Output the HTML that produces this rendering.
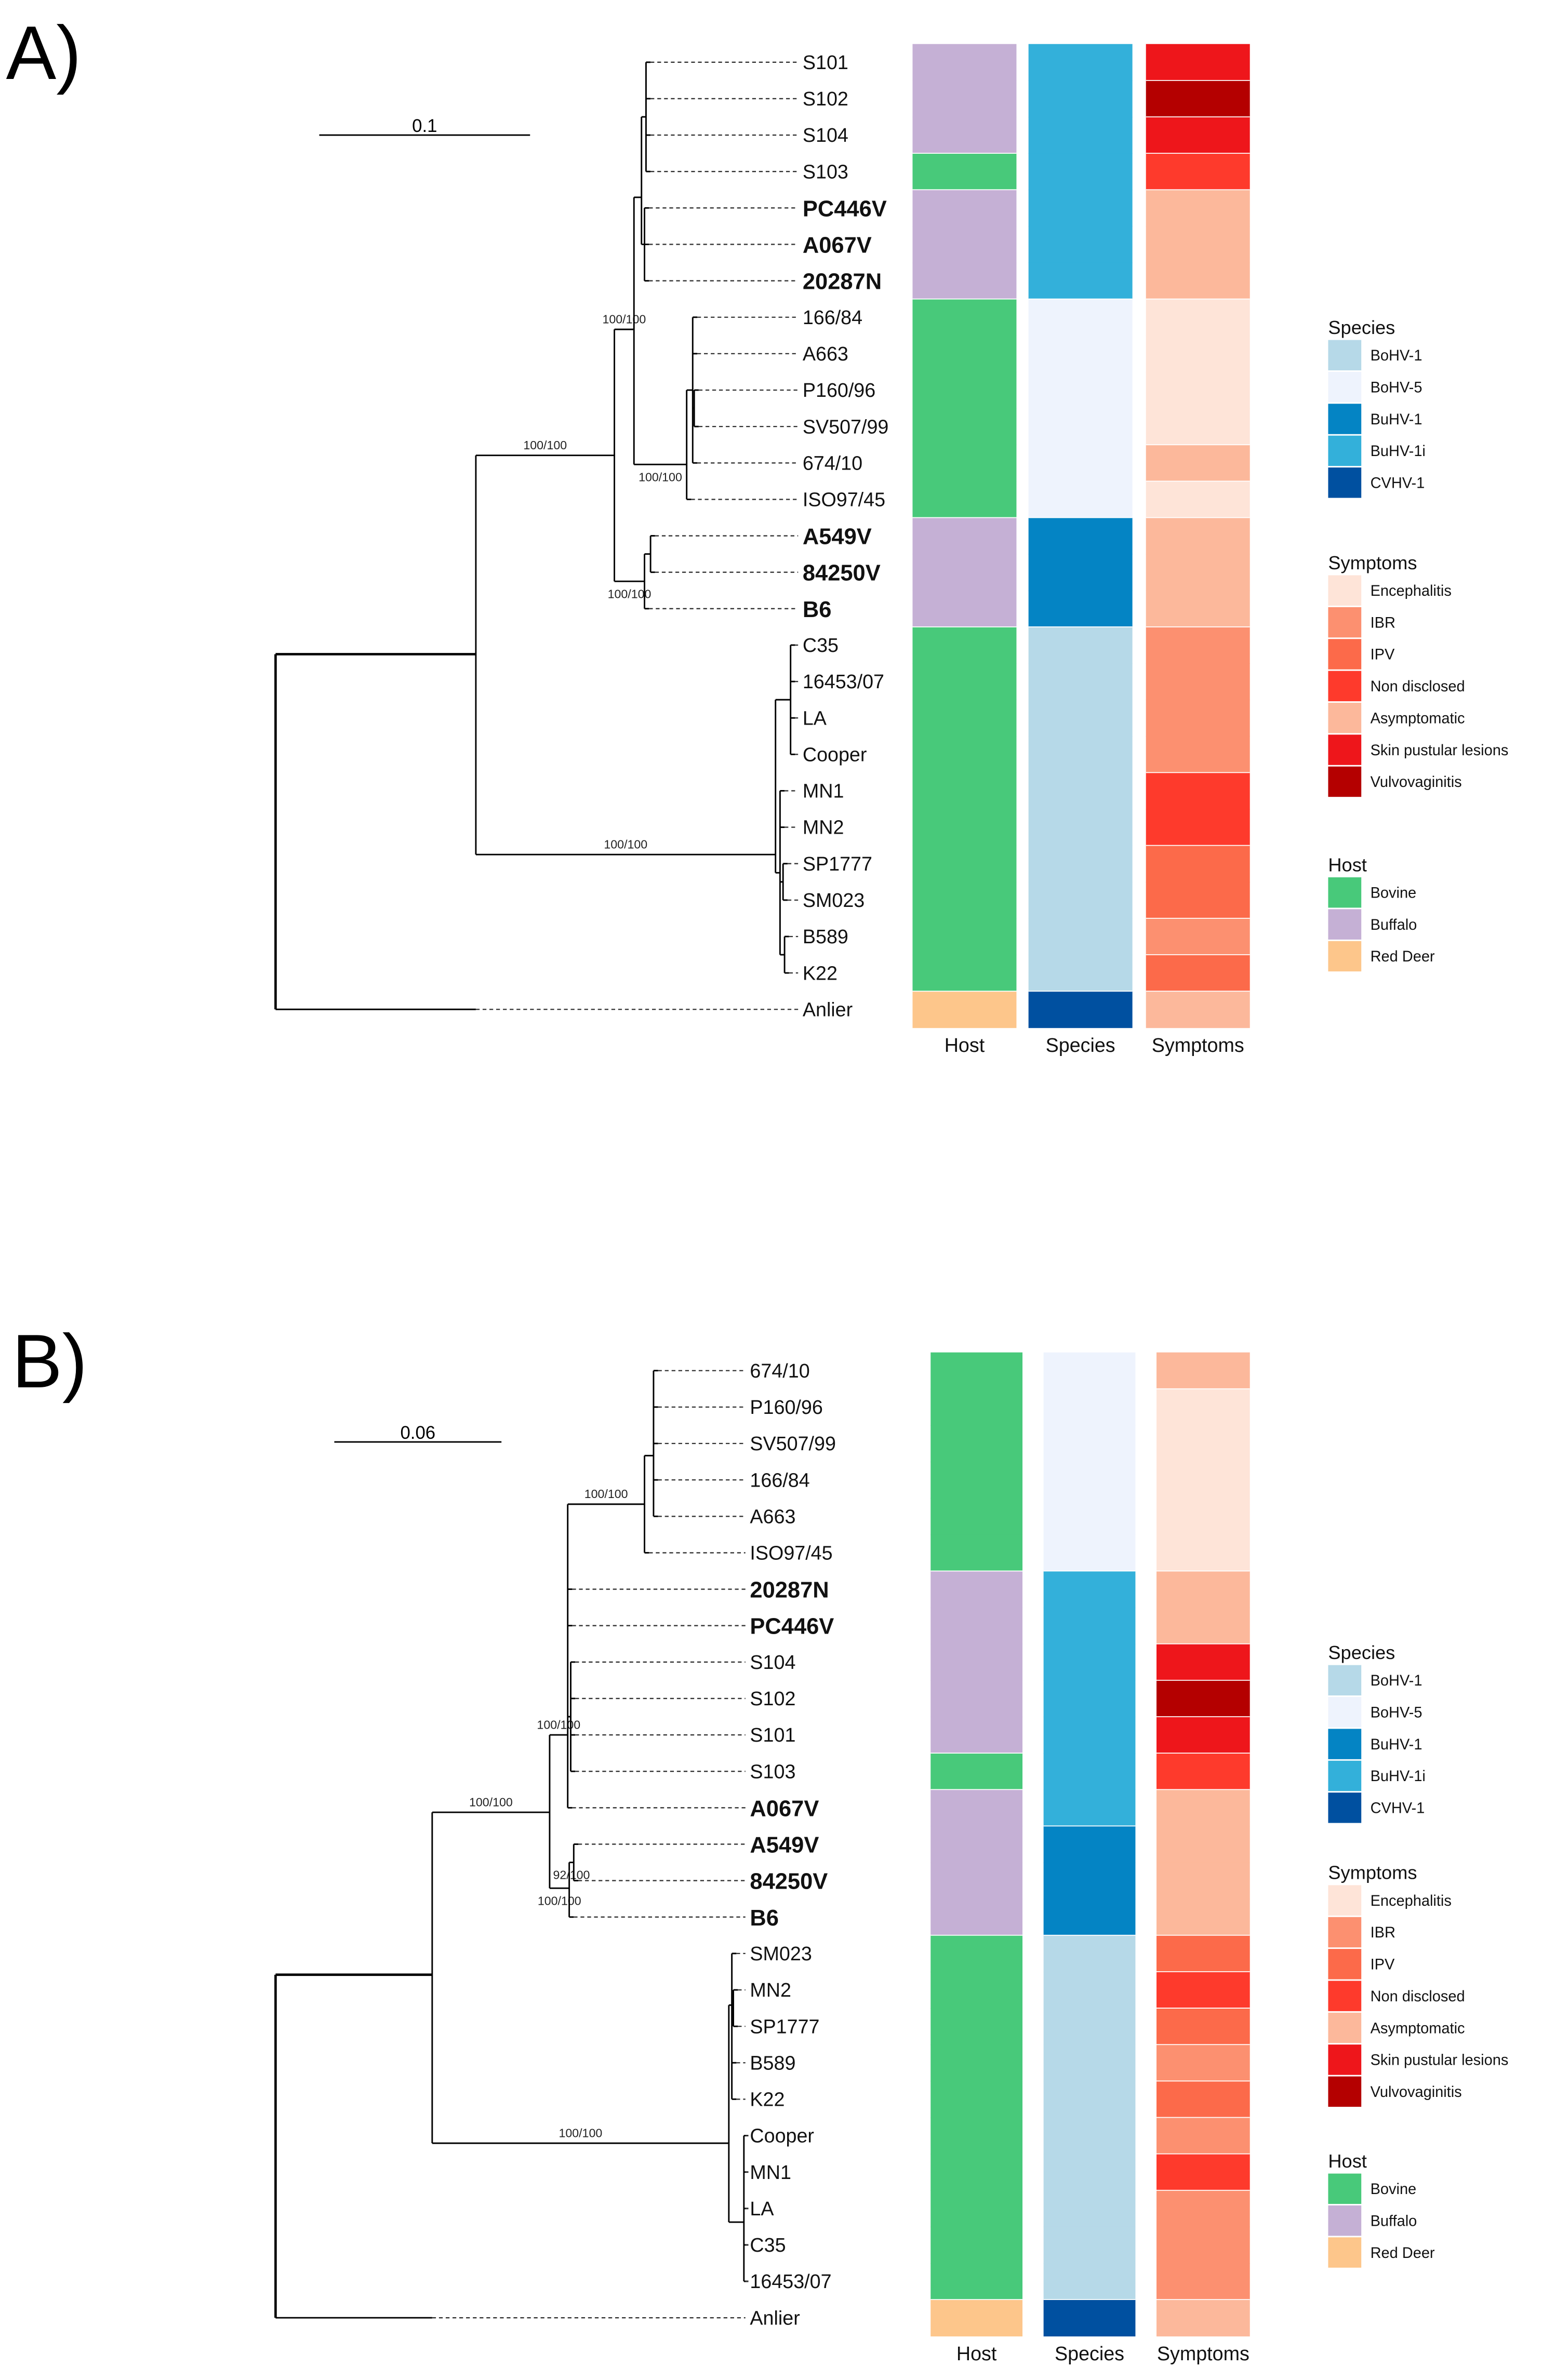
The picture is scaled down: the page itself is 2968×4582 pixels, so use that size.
<!DOCTYPE html>
<html><head><meta charset="utf-8"><style>
html,body{margin:0;padding:0;background:#fff;}
svg{display:block;font-family:"Liberation Sans",sans-serif;}
</style></head><body>
<svg id="fig" width="2968" height="4582" viewBox="0 0 1024 1568" preserveAspectRatio="none" xmlns="http://www.w3.org/2000/svg">
<text x="4" y="52" font-size="50">A)</text>
<text x="8" y="914" font-size="50">B)</text>
</svg>
<script>
const tipsA = ["S101","S102","S104","S103","PC446V","A067V","20287N","166/84","A663","P160/96","SV507/99","674/10","ISO97/45","A549V","84250V","B6","C35","16453/07","LA","Cooper","MN1","MN2","SP1777","SM023","B589","K22","Anlier"];
const hostA = ["Buffalo","Buffalo","Buffalo","Bovine","Buffalo","Buffalo","Buffalo","Bovine","Bovine","Bovine","Bovine","Bovine","Bovine","Buffalo","Buffalo","Buffalo","Bovine","Bovine","Bovine","Bovine","Bovine","Bovine","Bovine","Bovine","Bovine","Bovine","Red Deer"];
const speciesA = ["BuHV-1i","BuHV-1i","BuHV-1i","BuHV-1i","BuHV-1i","BuHV-1i","BuHV-1i","BoHV-5","BoHV-5","BoHV-5","BoHV-5","BoHV-5","BoHV-5","BuHV-1","BuHV-1","BuHV-1","BoHV-1","BoHV-1","BoHV-1","BoHV-1","BoHV-1","BoHV-1","BoHV-1","BoHV-1","BoHV-1","BoHV-1","CVHV-1"];
const symptomsA = ["Skin pustular lesions","Vulvovaginitis","Skin pustular lesions","Non disclosed","Asymptomatic","Asymptomatic","Asymptomatic","Encephalitis","Encephalitis","Encephalitis","Encephalitis","Asymptomatic","Encephalitis","Asymptomatic","Asymptomatic","Asymptomatic","IBR","IBR","IBR","IBR","Non disclosed","Non disclosed","IPV","IPV","IBR","IPV","Asymptomatic"];
const tipsB = ["674/10","P160/96","SV507/99","166/84","A663","ISO97/45","20287N","PC446V","S104","S102","S101","S103","A067V","A549V","84250V","B6","SM023","MN2","SP1777","B589","K22","Cooper","MN1","LA","C35","16453/07","Anlier"];
const hostB = ["Bovine","Bovine","Bovine","Bovine","Bovine","Bovine","Buffalo","Buffalo","Buffalo","Buffalo","Buffalo","Bovine","Buffalo","Buffalo","Buffalo","Buffalo","Bovine","Bovine","Bovine","Bovine","Bovine","Bovine","Bovine","Bovine","Bovine","Bovine","Red Deer"];
const speciesB = ["BoHV-5","BoHV-5","BoHV-5","BoHV-5","BoHV-5","BoHV-5","BuHV-1i","BuHV-1i","BuHV-1i","BuHV-1i","BuHV-1i","BuHV-1i","BuHV-1i","BuHV-1","BuHV-1","BuHV-1","BoHV-1","BoHV-1","BoHV-1","BoHV-1","BoHV-1","BoHV-1","BoHV-1","BoHV-1","BoHV-1","BoHV-1","CVHV-1"];
const symptomsB = ["Asymptomatic","Encephalitis","Encephalitis","Encephalitis","Encephalitis","Encephalitis","Asymptomatic","Asymptomatic","Skin pustular lesions","Vulvovaginitis","Skin pustular lesions","Non disclosed","Asymptomatic","Asymptomatic","Asymptomatic","Asymptomatic","IPV","Non disclosed","IPV","IBR","IPV","IBR","Non disclosed","IBR","IBR","IBR","Asymptomatic"];
const boldTips = ["PC446V","A067V","20287N","A549V","84250V","B6"];
const speciesCats = ["BoHV-1","BoHV-5","BuHV-1","BuHV-1i","CVHV-1"];
const speciesCols = ["#b6d9e8","#eef3fd","#0484c4","#33b0da","#0050a0"];
const symptomCats = ["Encephalitis","IBR","IPV","Non disclosed","Asymptomatic","Skin pustular lesions","Vulvovaginitis"];
const symptomCols = ["#fee4d8","#fc9070","#fc6a4a","#fe3a2c","#fcb89b","#ee161b","#b40000"];
const hostCats = ["Bovine","Buffalo","Red Deer"];
const hostCols = ["#48c97a","#c5b0d5","#fdc68b"];

const NS="http://www.w3.org/2000/svg";
const svg=document.getElementById('fig');
function mk(tag,attrs,parent){const e=document.createElementNS(NS,tag);for(const k in attrs)e.setAttribute(k,attrs[k]);(parent||svg).appendChild(e);return e;}
function N(x,children,label,below,yo){return {x,children,label,below,yo};}

function drawPanel(P){
  const g=mk('g',{});
  
  
  const yOf=i=>P.y0+i*P.dy;
  function layout(n){ if(typeof n==='number') return yOf(n); const ys=n.children.map(layout); n.y=(n.yo!==undefined)?n.yo:(ys[0]+ys[ys.length-1])/2; n.ys=ys; return n.y;}
  layout(P.tree);
  function draw(n){
    const lo=Math.min(...n.ys,n.y),hi=Math.max(...n.ys,n.y);
    mk('line',{x1:n.x,x2:n.x,y1:lo,y2:hi,stroke:'#000','stroke-width':n===P.tree?1.6:1},g);
    n.children.forEach((c,k)=>{
      const cy=n.ys[k];
      if(typeof c==='number'){
        const sx=c===P.tips.length-1?P.outX:n.x+3;
        mk('line',{x1:n.x,x2:sx,y1:cy,y2:cy,stroke:'#000','stroke-width':1},g);
        mk('line',{x1:sx,x2:P.tipEnd,y1:cy,y2:cy,stroke:'#333','stroke-width':0.8,'stroke-dasharray':'2.5,2'},g);
      } else {
        mk('line',{x1:n.x,x2:c.x,y1:cy,y2:cy,stroke:'#000','stroke-width':n===P.tree?1.6:1},g);
        if(c.label){const t=mk('text',{x:(n.x+c.x)/2,y:c.below?cy+11:cy-4,'font-size':8,'text-anchor':'middle',fill:'#222'},g);t.textContent=c.label;
          
          }
        draw(c);
      }
    });
  }
  draw(P.tree);
  P.tips.forEach((name,i)=>{
    const b=boldTips.includes(name);
    const t=mk('text',{x:P.labelX,y:yOf(i)+(b?5.5:4.5),'font-size':b?15:13,'font-weight':b?'bold':'normal',fill:'#111'},g);
    t.textContent=name;
    
    
  });
  const cols=[[P.host,hostCats,hostCols,'Host'],[P.species,speciesCats,speciesCols,'Species'],[P.symp,symptomCats,symptomCols,'Symptoms']];
  cols.forEach((c,ci)=>{
    const [vals,cats,colors,title]=c;const [x0,x1]=P.colX[ci];
    vals.forEach((v,i)=>{
      const r=mk('rect',{x:x0,y:yOf(i)-P.dy/2,width:x1-x0,height:P.dy+0.3,fill:colors[cats.indexOf(v)]},g);
      
      
      if(i>0 && vals[i-1]!==v) mk('line',{x1:x0,x2:x1,y1:yOf(i)-P.dy/2,y2:yOf(i)-P.dy/2,stroke:'#fff','stroke-width':0.6},g);
    });
    const t=mk('text',{x:(x0+x1)/2,y:yOf(P.tips.length-1)+P.dy/2+16,'font-size':13,'text-anchor':'middle',fill:'#111'},g);
    t.textContent=title;
    
    
  });
  mk('line',{x1:P.scale[0],x2:P.scale[1],y1:P.scale[2],y2:P.scale[2],stroke:'#000','stroke-width':1},g);
  const st=mk('text',{x:(P.scale[0]+P.scale[1])/2,y:P.scale[2]-2,'font-size':12,'text-anchor':'middle'},g);
  st.textContent=P.scale[3];
  
  
  const legs=[['Species',speciesCats,speciesCols,P.leg[0]],['Symptoms',symptomCats,symptomCols,P.leg[1]],['Host',hostCats,hostCols,P.leg[2]]];
  legs.forEach(L=>{
    const [title,cats,colors,ty]=L;
    const tt=mk('text',{x:882,y:ty,'font-size':12.5,fill:'#111'},g);tt.textContent=title;
    
    
    cats.forEach((c,i)=>{
      const cy=ty+14+i*21;
      mk('rect',{x:882,y:cy-10,width:22,height:20,fill:colors[i]},g);
      const lt=mk('text',{x:910,y:cy+3.5,'font-size':10,fill:'#111'},g);lt.textContent=c;
      
      
    });
  });
}

drawPanel({name:'panel-a',tips:tipsA,host:hostA,species:speciesA,symp:symptomsA,y0:41,dy:24,tipEnd:530,labelX:533,outX:316,
  colX:[[606,675],[683,752],[761,830]],scale:[212,352,89,'0.1'],leg:[220,375,574],
  tree:N(183,[
    N(316,[
      N(408,[
        N(421,[
          N(426,[N(429,[0,1,2,3]),N(428,[4,5,6])],'',false,130),
          N(456,[N(460,[7,8,N(461,[9,10]),11]),12],'100/100',true,306)
        ],'100/100',false,217),
        N(428,[N(432,[13,14]),15],'100/100',true,383)
      ],'100/100',false,300),
      N(515,[N(525,[16,17,18,19]),N(518,[20,21,N(520,[22,23]),N(521,[24,25])])],'100/100',false,563)
    ],'',false,431),26],'',false,431)
});
drawPanel({name:'panel-b',tips:tipsB,host:hostB,species:speciesB,symp:symptomsB,y0:903,dy:24,tipEnd:495,labelX:498,outX:287,
  colX:[[618,679],[693,754],[768,830]],scale:[222,333,950,'0.06'],leg:[1093,1238,1428],
  tree:N(183,[
    N(287,[
      N(365,[
        N(377,[N(428,[N(434,[0,1,2,3,4],'',false,959),5],'100/100',false,991),6,7,N(379,[8,9,10,11]),12],'100/100',false,1143),
        N(378,[N(381,[13,14],'92/100',true),15],'100/100',true,1244)
      ],'100/100',false,1194),
      N(484,[N(486,[16,N(487,[17,18]),19,20],'',false,1321),N(494,[21,22,23,24,25],'',false,1464)],'100/100',false,1412)
    ],'',false,1301),26],'',false,1301)
});
</script>
</body></html>
